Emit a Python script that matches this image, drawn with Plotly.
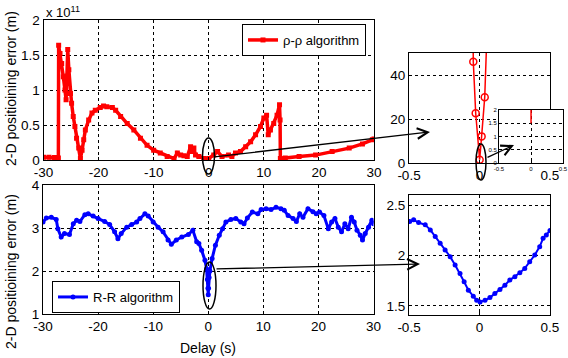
import plotly.graph_objects as go

# ---------------- data ----------------
# top-left: rho-rho algorithm error (units of 1e11 m) vs delay (s)
rho_t = [-30, -29, -28, -27.3, -27.25, -27.0, -26.7, -26.4, -26.1, -25.9, -25.75, -25.6,
         -25.4, -25.1, -24.9, -24.6, -24.3, -24.0, -23.6, -23.3, -23.0, -22.7, -22.4,
         -21.8, -21.2, -20.6, -19.7, -19.1, -18.5, -17.5, -16.9, -16.0, -14.8, -13.6,
         -12.4, -11.2, -10.0, -8.8, -7.55, -6.3, -5.7, -5.1, -4.5, -3.9, -3.3, -3.0,
         -2.7, -2.4, -1.8, -0.9, -0.3, 0, 0.9, 1.6, 2.4, 3.6, 4.2, 4.85, 5.76, 6.7,
         7.6, 8.5, 9.4, 10.0, 10.5, 10.8, 11.2, 11.8, 12.4, 12.85, 12.95, 13.0, 13.9,
         16.4, 19.4, 22.4, 25.5, 27.9, 29.7, 30]
rho_v = [0.04, 0.04, 0.035, 0.03, 1.64, 1.52, 1.38, 1.19, 1.0, 0.86, 1.2, 1.58,
         1.29, 0.95, 0.81, 0.62, 0.48, 0.31, 0.17, 0.02, 0.14, 0.29, 0.43,
         0.57, 0.67, 0.71, 0.75, 0.77, 0.76, 0.75, 0.71, 0.62, 0.52, 0.43,
         0.31, 0.21, 0.14, 0.10, 0.05, 0.02, 0.10, 0.07, 0.06, 0.05, 0.19, 0.12,
         0.17, 0.07, 0.05, 0.02, 0.01, 0.02, 0.07, 0.12, 0.05, 0.07, 0.05, 0.10, 0.12, 0.19,
         0.26, 0.36, 0.48, 0.60, 0.64, 0.36, 0.43, 0.52, 0.64, 0.79, 0.57, 0.02, 0.03,
         0.05, 0.07, 0.12, 0.17, 0.23, 0.29, 0.30]

# bottom-left: R-R algorithm error (m) vs delay (s)
rr_t = [-30, -29.4, -28.5, -27.6, -27.3, -26.7, -26.1, -25.2, -24.5, -23.9, -23.3, -22.4,
        -21.8, -20.9, -20, -18.8, -17.9, -17.0, -16.4, -15.8, -14.8, -13.9, -13.0, -12.4,
        -11.5, -10.9, -10, -9.1, -8.2, -7.3, -6.7, -5.8, -4.8, -3.6, -2.8, -2.1, -1.7,
        -1.2, -0.6, -0.3, -0.15, -0.05, 0, 0.05, 0.15, 0.3, 0.7, 1.3, 2.0, 2.6, 3.2, 4.1,
        5.0, 5.9, 6.5, 7.1, 8.0, 9.0, 9.6, 10.5, 11.4, 12.3, 13.2, 13.8, 14.5, 15.4, 16.0,
        16.6, 17.2, 18.1, 19.0, 19.6, 20.2, 21.0, 21.8, 22.4, 23.0, 23.6, 24.2, 24.8, 25.4,
        26.0, 26.5, 27.0, 27.6, 28.0, 28.5, 29.1, 29.7, 30]
rr_v = [3.14, 3.23, 3.25, 3.2, 2.98, 2.79, 2.87, 2.85, 3.1, 3.18, 3.15, 3.31,
        3.33, 3.28, 3.22, 3.15, 3.08, 2.91, 2.75, 2.87, 3.02, 3.08, 3.14, 3.22,
        3.33, 3.28, 3.14, 3.02, 2.91, 2.72, 2.62, 2.72, 2.79, 2.85, 2.95, 2.68, 2.64,
        2.48, 2.25, 2.05, 1.8, 1.6, 1.45, 1.6, 1.85, 2.0, 2.29, 2.6, 2.83, 2.98, 3.14, 3.2,
        3.22, 3.14, 3.1, 3.23, 3.37, 3.33, 3.43, 3.45, 3.43, 3.48, 3.45, 3.41, 3.29, 3.22, 3.15,
        3.33, 3.25, 3.45, 3.38, 3.33, 3.37, 3.29, 2.98, 3.14, 3.22, 3.02, 2.91, 3.1, 2.98,
        3.25, 3.14, 2.95, 2.83, 2.72, 2.87, 3.02, 3.18, 3.1]

# top-right inset: rho-rho near zero delay (m)
rho_zoom_t = [-0.05, -0.044, -0.027, 0.001, 0.015, 0.037, 0.06]
rho_zoom_v = [90, 46.0, 22.6, 1.5, 12.1, 29.9, 72]

# bottom-right inset: R-R near zero delay (m)
rr_zoom_t = [-0.495, -0.467, -0.432, -0.385, -0.349, -0.314, -0.279, -0.244, -0.208, -0.173,
             -0.138, -0.109, -0.079, -0.044, -0.020, 0.004, 0.039, 0.074, 0.109, 0.145,
             0.180, 0.215, 0.251, 0.286, 0.321, 0.356, 0.392, 0.427, 0.451, 0.474, 0.5]
rr_zoom_v = [2.337, 2.354, 2.327, 2.304, 2.254, 2.188, 2.121, 2.055, 1.988, 1.905,
             1.822, 1.739, 1.656, 1.596, 1.556, 1.540, 1.556, 1.583, 1.623, 1.663,
             1.706, 1.756, 1.789, 1.829, 1.872, 1.939, 2.005, 2.088, 2.171, 2.204, 2.248]

# tick labels
delay_ticks = [-30, -20, -10, 0, 10, 20, 30]
delay_text = ["-30", "-20", "-10", "0", "10", "20", "30"]
rho_ticks = [0, 0.5, 1, 1.5, 2]
rho_text = ["0", "0.5", "1", "1.5", "2"]
rr_ticks = [1, 2, 3, 4]
rr_text = ["1", "2", "3", "4"]
zoom_x_ticks = [-0.5, 0, 0.5]
zoom_x_text = ["-0.5", "0", "0.5"]
rho_zoom_ticks = [0, 20, 40]
rho_zoom_text = ["0", "20", "40"]
tiny_ticks = [0, 0.5, 1, 1.5, 2]
tiny_text = ["0", "0.5", "1", "1.5", "2"]
rr_zoom_ticks = [1.5, 2, 2.5]
rr_zoom_text = ["1.5", "2", "2.5"]

RED = "#ff0000"
BLUE = "#0000ff"
FONT = "Arial, 'Liberation Sans', sans-serif"
W, H = 568, 358


def fx(p):
    return p / W


def fy(p):
    return 1 - p / H


fig = go.Figure()

fig.add_trace(go.Scatter(x=rho_t, y=rho_v, mode="lines+markers", name="ρ-ρ algorithm",
                         line=dict(color=RED, width=3.5),
                         marker=dict(symbol="square", size=5, color=RED),
                         xaxis="x", yaxis="y", legend="legend"))
fig.add_trace(go.Scatter(x=rr_t, y=rr_v, mode="lines+markers", name="R-R algorithm",
                         line=dict(color=BLUE, width=3),
                         marker=dict(symbol="circle", size=5, color=BLUE),
                         xaxis="x2", yaxis="y2", legend="legend2"))
fig.add_trace(go.Scatter(x=rho_zoom_t, y=rho_zoom_v, mode="lines+markers", showlegend=False,
                         line=dict(color=RED, width=1.5),
                         marker=dict(symbol="circle-open", size=7, color=RED, line=dict(width=1.5)),
                         xaxis="x3", yaxis="y3"))
fig.add_trace(go.Scatter(x=rho_zoom_t, y=rho_zoom_v, mode="lines", showlegend=False,
                         line=dict(color=RED, width=1),
                         xaxis="x4", yaxis="y4"))
fig.add_trace(go.Scatter(x=rr_zoom_t, y=rr_zoom_v, mode="lines+markers", showlegend=False,
                         line=dict(color=BLUE, width=2),
                         marker=dict(symbol="circle", size=5, color=BLUE),
                         xaxis="x5", yaxis="y5"))

axis_common = dict(showline=True, mirror=True, linecolor="black", linewidth=1,
                   showgrid=True, gridcolor="black", gridwidth=1, griddash="3px,3px",
                   ticks="inside", ticklen=3, tickcolor="black", zeroline=False,
                   automargin=False,
                   tickfont=dict(family=FONT, size=13.5, color="black"), tickmode="array")

layout = dict(
    template="none",
    width=W, height=H, margin=dict(l=0, r=0, t=0, b=0, autoexpand=False),
    paper_bgcolor="white", plot_bgcolor="white",
    font=dict(family=FONT, size=13, color="black"),
    xaxis=dict(axis_common, domain=[fx(43.5), fx(374)], range=[-30, 30],
               tickvals=delay_ticks, ticktext=delay_text, anchor="y"),
    yaxis=dict(axis_common, domain=[fy(160), fy(20)], range=[0, 2],
               tickvals=rho_ticks, ticktext=rho_text, anchor="x"),
    xaxis2=dict(axis_common, domain=[fx(43), fx(373.5)], range=[-30, 30],
                tickvals=delay_ticks, ticktext=delay_text, anchor="y2"),
    yaxis2=dict(axis_common, domain=[fy(314), fy(185)], range=[1, 4],
                tickvals=rr_ticks, ticktext=rr_text, anchor="x2"),
    xaxis3=dict(axis_common, domain=[fx(409), fx(550)], range=[-0.5, 0.5],
                tickvals=zoom_x_ticks, ticktext=zoom_x_text, anchor="y3"),
    yaxis3=dict(axis_common, domain=[fy(163), fy(53)], range=[0, 50],
                tickvals=rho_zoom_ticks, ticktext=rho_zoom_text, anchor="x3"),
    xaxis4=dict(axis_common, domain=[fx(499), fx(563)], range=[-0.5, 0.5],
                tickvals=zoom_x_ticks, ticktext=zoom_x_text, anchor="y4",
                ticklen=2, tickfont=dict(family=FONT, size=6, color="black")),
    yaxis4=dict(axis_common, domain=[fy(163), fy(110)], range=[0, 2],
                tickvals=tiny_ticks, ticktext=tiny_text, anchor="x4",
                ticklen=2, tickfont=dict(family=FONT, size=6, color="black")),
    xaxis5=dict(axis_common, domain=[fx(409), fx(550)], range=[-0.5, 0.5],
                tickvals=zoom_x_ticks, ticktext=zoom_x_text, anchor="y5"),
    yaxis5=dict(axis_common, domain=[fy(315), fy(195)], range=[1.41, 2.6],
                tickvals=rr_zoom_ticks, ticktext=rr_zoom_text, anchor="x5"),
    legend=dict(x=fx(242), y=fy(24), xanchor="left", yanchor="top",
                bgcolor="white", bordercolor="black", borderwidth=1,
                font=dict(family=FONT, size=13, color="black")),
    legend2=dict(x=fx(52), y=fy(281), xanchor="left", yanchor="top",
                 bgcolor="white", bordercolor="black", borderwidth=1,
                 font=dict(family=FONT, size=13, color="black")),
)
fig.update_layout(**layout)

# white backing for the tiny inset (covers the larger inset's grid)
fig.add_shape(type="rect", xref="x4", yref="y4", x0=-0.5, x1=0.5, y0=0, y1=2,
              fillcolor="white", line=dict(width=0), layer="below")

# ellipses
ell = dict(type="circle", xref="paper", yref="paper", line=dict(color="black", width=1.5),
           fillcolor="rgba(0,0,0,0)", layer="above")
fig.add_shape(ell, x0=fx(202.5), x1=fx(214.5), y0=fy(174), y1=fy(138))
fig.add_shape(ell, x0=fx(203), x1=fx(216), y0=fy(309), y1=fy(262))
fig.add_shape(ell, x0=fx(476), x1=fx(486), y0=fy(180), y1=fy(144))

# arrows
arr = dict(xref="paper", yref="paper", axref="pixel", ayref="pixel", text="", showarrow=True,
           arrowhead=5, arrowsize=1.6, arrowwidth=1.3, arrowcolor="black", standoff=0)
fig.add_annotation(arr, x=fx(430), y=fy(132), ax=213 - 430, ay=157 - 132)
fig.add_annotation(arr, x=fx(420), y=fy(264), ax=215 - 420, ay=269 - 264)
fig.add_annotation(arr, x=fx(514), y=fy(145), ax=486 - 514, ay=158 - 145)

# texts
txt = dict(xref="paper", yref="paper", showarrow=False, font=dict(family=FONT, size=14, color="black"))
fig.add_annotation(txt, x=fx(44), y=fy(12), xanchor="left", yanchor="middle",
                   text="x 10<sup>11</sup>", font=dict(family=FONT, size=13, color="black"))
fig.add_annotation(txt, x=fx(11), y=fy(89), xanchor="center", yanchor="middle", textangle=-90,
                   text="2-D positioining error (m)")
fig.add_annotation(txt, x=fx(11), y=fy(272), xanchor="center", yanchor="middle", textangle=-90,
                   text="2-D positioining error (m)")
fig.add_annotation(txt, x=fx(208), y=fy(348), xanchor="center", yanchor="middle",
                   text="Delay (s)")

fig.write_html("out.html", config={"displayModeBar": False},
               post_script="document.body.style.margin='0px';document.body.style.overflow='hidden';")
